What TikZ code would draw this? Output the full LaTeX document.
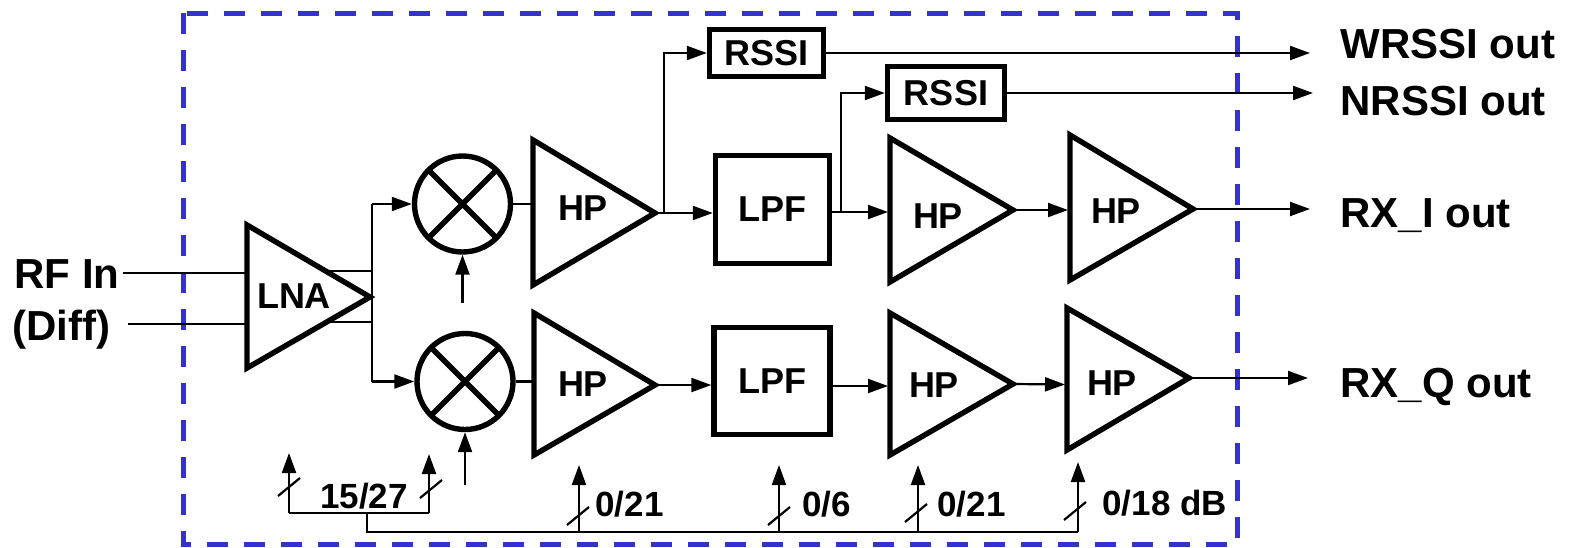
\documentclass[tikz,border=0pt]{standalone}
\usepackage{fontspec}
\setmainfont{Liberation Sans}
\usetikzlibrary{arrows.meta,calc}
\definecolor{dashblue}{RGB}{51,51,204}
\newcommand\lblbig{\fontsize{21pt}{25pt}\selectfont\bfseries}
\newcommand\lblmid{\fontsize{18pt}{22pt}\selectfont\bfseries}
\newcommand\lblsmall{\fontsize{17.5pt}{21pt}\selectfont\bfseries}
\begin{document}
\begin{tikzpicture}[x=0.5pt,y=-0.5pt,
  wire/.style={line width=1.1pt},
  arr/.style={wire,-{Triangle[length=10pt,width=7pt]}},
  blk/.style={line width=2.7pt},
  box/.style={draw,blk,rectangle,inner sep=0pt,font=\lblmid},
  mixer/.style={draw,blk,circle,minimum size=48pt,inner sep=0pt,
    path picture={\draw[blk] (path picture bounding box.north west) -- (path picture bounding box.south east)
      (path picture bounding box.north east) -- (path picture bounding box.south west);}},
  txt/.style={inner sep=0pt,font=\lblmid},
  gtxt/.style={inner sep=0pt,font=\lblsmall},
  otxt/.style={inner sep=0pt,font=\lblbig,anchor=base west}]
\useasboundingbox (0,0) rectangle (1575,547);
% dashed enclosure
\draw[dashblue,line width=2.5pt,dash pattern=on 10.5pt off 8pt] (183,13) rectangle (1237,544);

% ---------- LNA ----------
\draw[blk] (247,225) -- (247,368) -- (370,297) -- cycle;
\node[txt] (lnat) at (294,296) {LNA};
\coordinate (in1) at (123,273);
\coordinate (in2) at (128,324);
\coordinate (lnai1) at (246,273);
\coordinate (lnai2) at (246,324);
\coordinate (lnao1) at (326,271);
\coordinate (lnao2) at (328,322);
\coordinate (lnab1) at (372,204);
\coordinate (lnab2) at (372,381.5);
\draw[wire] (in1) -- (lnai1);
\draw[wire] (in2) -- (lnai2);
\draw[wire] (lnao1) -- (lnao1 -| lnab1);
\draw[wire] (lnao2) -- (lnao2 -| lnab1);
\draw[wire] (lnab1) -- (lnab2);

% ---------- mixers ----------
\node[mixer] (mix1) at (462.5,204) {};
\node[mixer] (mix2) at (465,381.5) {};
\draw[arr] (lnab1) -- (mix1.west);
\draw[arr] (lnab2) -- (mix2.west);
\coordinate (loA) at (462.5,303);
\coordinate (loB) at (465,485);
\draw[arr] (loA) -- (mix1.south);
\draw[arr] (loB) -- (mix2.south);

% ---------- upper chain ----------
\draw[blk] (533,140) -- (533,285) -- (655,213) -- cycle;
\node[txt] (hp1ut) at (583,208) {HP};
\coordinate (hp1ui) at (532,213);
\coordinate (hp1uo) at (655,213);
\node[box,minimum width=57pt,minimum height=54pt] (lpf1) at (772.5,209.5) {LPF};
\draw[blk] (890,138) -- (890,282) -- (1013,210) -- cycle;
\node[txt] (hp2ut) at (938,216) {HP};
\coordinate (hp2ui) at (888,212);
\coordinate (hp2uo) at (1013,210);
\draw[blk] (1070,135) -- (1070,280) -- (1193,209) -- cycle;
\node[txt] (hp3ut) at (1116,211) {HP};
\coordinate (hp3ui) at (1068,210);
\coordinate (hp3uo) at (1193,209);
\node[box,minimum width=57pt,minimum height=23.5pt] (rssi1) at (766.5,53) {RSSI};
\node[box,minimum width=58.5pt,minimum height=26.5pt] (rssi2) at (946,93) {RSSI};
\coordinate (br1) at (664,213);
\coordinate (br2) at (841,212);

\draw[wire] (mix1.east) -- (mix1.east -| hp1ui);
\draw[arr] (hp1uo) -- (hp1uo -| lpf1.west);
\draw[arr] (br1) |- (rssi1.west);
\draw[arr] (lpf1.east |- hp2ui) -- (hp2ui);
\draw[arr] (br2) |- (rssi2.west);
\draw[arr] (hp2uo) -- (hp3ui);

% ---------- lower chain ----------
\draw[blk] (534,313) -- (534,455) -- (655,385) -- cycle;
\node[txt] (hp1lt) at (583,384) {HP};
\coordinate (hp1li) at (533,386);
\coordinate (hp1lo) at (655,385);
\node[box,minimum width=58pt,minimum height=53.5pt] (lpf2) at (772,381) {LPF};
\draw[blk] (890,313) -- (890,455) -- (1013,384) -- cycle;
\node[txt] (hp2lt) at (934,385) {HP};
\coordinate (hp2li) at (888,386);
\coordinate (hp2lo) at (1013,384);
\draw[blk] (1067,308) -- (1067,450) -- (1189,378) -- cycle;
\node[txt] (hp3lt) at (1112,383) {HP};
\coordinate (hp3li) at (1065,384.5);
\coordinate (hp3lo) at (1189,378);

\draw[wire] (mix2.east) -- (mix2.east -| hp1li);
\draw[arr] (hp1lo) -- (hp1lo -| lpf2.west);
\draw[arr] (lpf2.east |- hp2li) -- (hp2li);
\draw[arr] (hp2lo) -- (hp3li);

% ---------- outputs ----------
\coordinate (o1) at (1310,53);
\coordinate (o2) at (1313,93);
\coordinate (o3) at (1310,209);
\coordinate (o4) at (1308,378);
\draw[arr] (rssi1.east) -- (o1);
\draw[arr] (rssi2.east) -- (o2);
\draw[arr] (hp3uo) -- (o3);
\draw[arr] (hp3lo) -- (o4);
\node[otxt] (t1) at (1340,58) {WRSSI out};
\node[otxt] (t2) at (1340,115) {NRSSI out};
\node[otxt] (t3) at (1340,227) {RX\_I out};
\node[otxt] (t4) at (1340,397) {RX\_Q out};
\node[otxt] (rfin) at (14,288) {RF In};
\node[otxt] (diff) at (12,340) {(Diff)};

% ---------- gain control ----------
\coordinate (b1) at (289,513);
\coordinate (b2) at (429,513);
\coordinate (bm) at (367,513);
\coordinate (bm2) at (367,532);
\coordinate (c1) at (579,532);
\coordinate (c2) at (779,532);
\coordinate (c3) at (918,532);
\coordinate (c4) at (1078,532);
\coordinate (a1) at (289,453);
\coordinate (a2) at (429,454);
\coordinate (a3) at (579,465);
\coordinate (a4) at (779,465);
\coordinate (a5) at (918,465);
\coordinate (a6) at (1078,462);
\draw[wire] (b1) -- (b2);
\draw[wire] (bm) -- (bm2) -- (c4);
\draw[arr] (b1) -- (a1);
\draw[arr] (b2) -- (a2);
\draw[arr] (c1) -- (a3);
\draw[arr] (c2) -- (a4);
\draw[arr] (c3) -- (a5);
\draw[arr] (c4) -- (a6);
\foreach \p in {(289,487),(431,489),(578,516),(779,516),(916,513),(1075,511)}
  \draw[wire] \p ++(-11,9) -- ++(22,-18);
\node[gtxt] (g0) at (364,496) {15/27};
\node[gtxt,anchor=west] (g1) at (595,504) {0/21};
\node[gtxt,anchor=west] (g2) at (802,504) {0/6};
\node[gtxt,anchor=west] (g3) at (937,504) {0/21};
\node[gtxt,anchor=west] (g4) at (1102,503) {0/18 dB};
\end{tikzpicture}
\end{document}
